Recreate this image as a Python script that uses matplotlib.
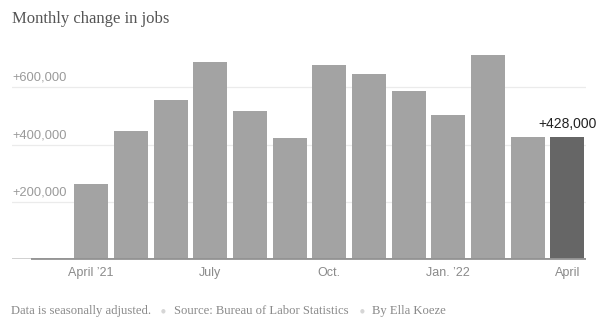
import matplotlib
matplotlib.use("Agg")
import matplotlib.pyplot as plt
from matplotlib.transforms import blended_transform_factory

# Monthly change in payroll jobs, April 2021 - April 2022
months = ["Apr 2021", "May 2021", "Jun 2021", "Jul 2021", "Aug 2021", "Sep 2021",
          "Oct 2021", "Nov 2021", "Dec 2021", "Jan 2022", "Feb 2022", "Mar 2022", "Apr 2022"]
jobs = [263000, 447000, 557000, 689000, 517000, 424000,
        677000, 647000, 588000, 504000, 714000, 428000, 428000]
tick_idx = [0, 3, 6, 9, 12]
tick_labels = ["April \u201921", "July", "Oct.", "Jan. \u201922", "April"]
grid_vals = [200000, 400000, 600000]
grid_labels = ["+200,000", "+400,000", "+600,000"]

W, H = 604, 333
fig = plt.figure(figsize=(W / 100, H / 100), dpi=100)
fig.patch.set_facecolor("white")

ax_left, ax_right, ax_bottom, ax_top = 12, 586, 259.3, 40
ax = fig.add_axes([ax_left / W, 1 - ax_bottom / H,
                   (ax_right - ax_left) / W, (ax_bottom - ax_top) / H])
ax.set_facecolor("white")

x = list(range(len(jobs)))
colors = ["#a3a3a3"] * (len(jobs) - 1) + ["#666666"]
ax.bar(x, jobs, width=0.857, color=colors, zorder=3, linewidth=0)

ax.set_xlim(-1.996, 12.47)
ax.set_ylim(0, 765500)

# light gridlines with labels sitting just above them
for v, lab in zip(grid_vals, grid_labels):
    ax.axhline(v, color="#ebebeb", linewidth=0.9, zorder=1)
    ax.annotate(lab, xy=(0, v), xycoords=blended_transform_factory(ax.transAxes, ax.transData),
                xytext=(0, 2.5), textcoords="offset points", ha="left", va="bottom",
                fontsize=9.3, color="#9a9a9a", family="Liberation Sans")

# baseline
ax.axhline(0, color="#c8c8c8", linewidth=1.2, zorder=4)
ax.plot([-1.517, 12.47], [0, 0], color="#8a8a8a", linewidth=1.2, zorder=5,
        solid_capstyle="butt", clip_on=False)

# label on the latest month
ax.annotate(f"+{jobs[-1]:,}", xy=(x[-1], jobs[-1]), xytext=(0, 4),
            textcoords="offset points", ha="center", va="bottom",
            fontsize=10, color="#222222", family="Liberation Sans")

ax.set_xticks(tick_idx)
ax.set_xticklabels(tick_labels, fontsize=9, color="#8a8a8a", family="Liberation Sans")
ax.tick_params(axis="x", length=0, pad=5.5)
ax.set_yticks([])
for s in ax.spines.values():
    s.set_visible(False)

# title
fig.text(12 / W, 1 - 19 / H, "Monthly change in jobs", ha="left", va="center",
         fontsize=12, color="#555555", family="Liberation Serif")

# footer notes separated by small dots
foot_y = 1 - 311 / H
notes = [(11, "Data is seasonally adjusted."),
         (174, "Source: Bureau of Labor Statistics"),
         (372, "By Ella Koeze")]
for px, t in notes:
    fig.text(px / W, foot_y, t, ha="left", va="center", fontsize=9.1,
             color="#8a8a8a", family="Liberation Serif")
for px in (163.3, 361.7):
    fig.text(px / W, foot_y, "\u25cf", ha="center", va="center", fontsize=4,
             color="#d6d6d6", family="DejaVu Sans")

fig.savefig("out.png", dpi=100, facecolor="white")
